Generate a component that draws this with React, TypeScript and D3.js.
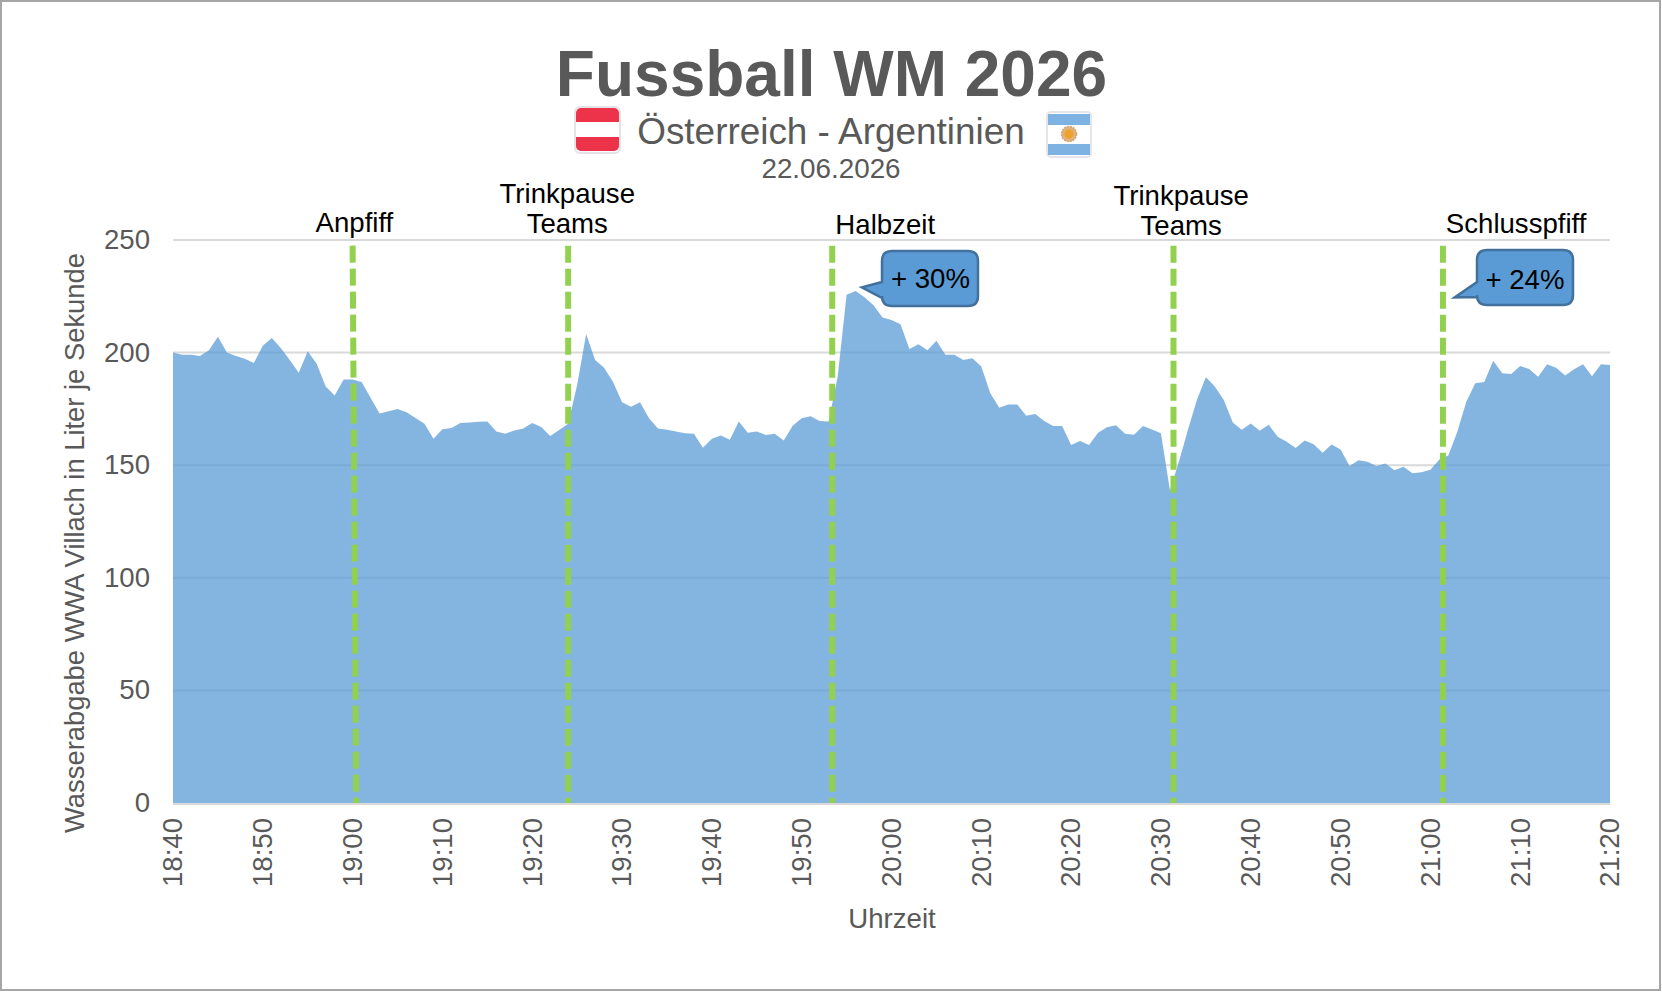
import { useRef, useEffect } from "react";
import * as d3 from "d3";

const width = 1662;
const height = 992;

// Wasserabgabe in l/s, one value per minute from 18:40 to 21:20
const flow = [
  200, 199, 199, 198.5, 201, 207, 200, 198.5, 197.3, 195.4,
  203, 206.5, 202, 196.7, 191, 200.6, 195, 185, 181, 188,
  188, 187, 180, 173, 174, 175, 173.5, 171, 168.4, 161.7,
  166, 166.5, 168.7, 169, 169.3, 169.4, 165, 164, 165.4, 166.3,
  168.7, 167, 163, 165.6, 168.4, 185.6, 208.3, 196.7, 193.3, 187,
  178, 176, 178, 170.8, 166.3, 165.7, 165, 164.2, 164, 157.7,
  161.7, 163.2, 161.3, 169.4, 164.4, 165, 163.4, 164, 161, 167.5,
  170.8, 171.7, 169.6, 169.4, 189, 225.7, 227.4, 224.6, 221, 215.6,
  214.5, 212.6, 201.6, 203.7, 201, 205.3, 199, 199, 196.7, 197.5,
  193.8, 182, 175.5, 177, 177, 172, 172.7, 169.6, 167.4, 167.4,
  159, 160.7, 159, 164.4, 166.8, 167.7, 164, 163.5, 167.4, 165.9,
  164.2, 138.9, 151.5, 165.6, 179, 189, 185, 179, 169, 165.7,
  168.5, 165.3, 168, 162.6, 160.4, 157.6, 161, 159.3, 155.5, 159.2,
  157, 149.7, 152.2, 151.5, 149.6, 150.7, 147.8, 149.3, 146.4, 146.9,
  148, 152.5, 154.3, 164.8, 178.2, 186.4, 187, 196.4, 190.8, 190.5,
  194, 192.7, 189.3, 194.8, 193.3, 189.8, 192.6, 194.8, 189.5, 194.8,
  194.5,
];

const xTicks = d3.range(0, 161, 10);
const xTickLabels = [
  "18:40", "18:50", "19:00", "19:10", "19:20", "19:30", "19:40", "19:50", "20:00",
  "20:10", "20:20", "20:30", "20:40", "20:50", "21:00", "21:10", "21:20",
];
const yTicks = [0, 50, 100, 150, 200, 250];

// minutes after 18:40; first line leans a little in the original
const eventTop = [20, 44, 73.4, 111.4, 141.4];
const eventBottom = [20.4, 44, 73.4, 111.4, 141.4];
const eventLabels = [
  ["Anpfiff"],
  ["Trinkpause", "Teams"],
  ["Halbzeit"],
  ["Trinkpause", "Teams"],
  ["Schlusspfiff"],
];
const eventLabelMinute = [20.2, 43.9, 79.3, 112.25, 149.55];
const eventLabelBaseline = [232, 233, 234, 234.5, 233];

const calloutLabels = ["+ 30%", "+ 24%"];
const calloutMinute = [76.7, 142.7];
const calloutValue = [229, 224.5];

const font = "'Liberation Sans', Arial, sans-serif";
const grey = "#595959";
const labelSize = 27.6;

const margin = { top: 240, right: 52, bottom: 189, left: 173 };

const x = d3.scaleLinear().domain([0, 160]).range([margin.left, width - margin.right]);
const y = d3.scaleLinear().domain([0, 250]).range([height - margin.bottom, margin.top]);

const area = d3
  .area<number>()
  .x((_, i) => x(i))
  .y0(y(0))
  .y1(d => y(d));

function calloutPath(tipX: number, tipY: number, left: number, top: number, right: number, bottom: number, baseA: number, baseB: number) {
  const r = 10;
  const p = d3.path();
  p.moveTo(left + r, top);
  p.lineTo(right - r, top);
  p.quadraticCurveTo(right, top, right, top + r);
  p.lineTo(right, bottom - r);
  p.quadraticCurveTo(right, bottom, right - r, bottom);
  p.lineTo(left + r, bottom);
  p.quadraticCurveTo(left, bottom, left, bottom - r);
  p.lineTo(left, baseB);
  p.lineTo(tipX, tipY);
  p.lineTo(left, baseA);
  p.lineTo(left, top + r);
  p.quadraticCurveTo(left, top, left + r, top);
  p.closePath();
  return p.toString();
}

export default function App() {
  const gxRef = useRef<SVGGElement | null>(null);
  const gyRef = useRef<SVGGElement | null>(null);

  useEffect(() => {
    if (gxRef.current) {
      const gx = d3.select<SVGGElement, unknown>(gxRef.current);
      gx.call(
        d3
          .axisBottom(x)
          .tickValues(xTicks)
          .tickSize(0)
          .tickFormat((_, i) => xTickLabels[i])
      );
      gx.select(".domain").remove();
      gx.selectAll("text")
        .attr("transform", "rotate(-90)")
        .attr("x", -15)
        .attr("y", 0)
        .attr("dy", "0.32em")
        .attr("text-anchor", "end")
        .attr("font-family", font)
        .attr("font-size", labelSize)
        .attr("fill", grey);
    }
    if (gyRef.current) {
      const gy = d3.select<SVGGElement, unknown>(gyRef.current);
      gy.call(d3.axisLeft(y).tickValues(yTicks).tickSize(0).tickFormat(d3.format("d")));
      gy.select(".domain").remove();
      gy.selectAll("text")
        .attr("x", -23)
        .attr("dy", "0.31em")
        .attr("font-family", font)
        .attr("font-size", labelSize)
        .attr("fill", grey);
    }
  }, []);

  const boxes = [
    { left: 882, top: 251, right: 978, bottom: 306, baseA: 282, baseB: 298, textX: 930.5, textY: 288 },
    { left: 1477, top: 250, right: 1573, bottom: 305, baseA: 282, baseB: 297, textX: 1525, textY: 289 },
  ];

  return (
    <svg
      width={width}
      height={height}
      style={{ position: "absolute", left: 0, top: 0, background: "#fff" }}
      fontFamily={font}
    >
      <rect x={1} y={1} width={width - 3} height={height - 3} fill="#fff" stroke="#a6a6a6" strokeWidth={2} />

      {/* Title block */}
      <text x={831.5} y={96} textAnchor="middle" fontSize={64} fontWeight="bold" fill={grey}>
        Fussball WM 2026
      </text>
      <text x={831} y={144} textAnchor="middle" fontSize={36.9} fill={grey}>
        Österreich - Argentinien
      </text>
      <text x={831} y={178} textAnchor="middle" fontSize={27.8} fill={grey}>
        22.06.2026
      </text>

      {/* Flags */}
      <g>
        <rect x={575} y={107} width={45} height={46} rx={5} fill="#fff" stroke="#e6e2e8" strokeWidth={2} />
        <path d="M576 113 a5 5 0 0 1 5 -5 h33 a5 5 0 0 1 5 5 v9 h-43 z" fill="#ec3349" />
        <path d="M576 137 h43 v9 a5 5 0 0 1 -5 5 h-33 a5 5 0 0 1 -5 -5 z" fill="#ec3349" />
        <rect x={1047} y={112} width={44} height={45} rx={4} fill="#fff" stroke="#e4e4ea" strokeWidth={2} />
        <rect x={1048} y={114} width={42} height={11} fill="#7eb2e2" />
        <rect x={1048} y={144} width={42} height={11} fill="#7eb2e2" />
        <circle cx={1069} cy={134} r={7.5} fill="#e3b27c" stroke="#d3a574" strokeWidth={1.5} strokeDasharray="2 1" />
        <circle cx={1069} cy={134} r={4.5} fill="#eba32c" />
      </g>

      {/* Grid */}
      <g stroke="#d9d9d9" strokeWidth={2}>
        {yTicks.slice(1).map(t => (
          <line key={t} x1={x(0)} x2={x(160)} y1={y(t)} y2={y(t)} />
        ))}
        <line x1={x(0)} x2={x(160)} y1={y(0) + 1} y2={y(0) + 1} />
      </g>

      <path d={area(flow) || undefined} fill="#5b9bd5" fillOpacity={0.75} />

      {/* Axes */}
      <g ref={gxRef} transform={`translate(0,${y(0)})`} />
      <g ref={gyRef} transform={`translate(${x(0)},0)`} />
      <text transform={`translate(84,543) rotate(-90)`} textAnchor="middle" fontSize={27.37} fill={grey}>
        Wasserabgabe WWA Villach in Liter je Sekunde
      </text>
      <text x={892} y={928} textAnchor="middle" fontSize={labelSize} fill={grey}>
        Uhrzeit
      </text>

      {/* Match events */}
      <g stroke="#92d050" strokeWidth={6} strokeDasharray="17 6">
        {eventTop.map((m, i) => (
          <line key={i} x1={x(m)} x2={x(eventBottom[i])} y1={y(247.5)} y2={y(0)} />
        ))}
      </g>
      <g textAnchor="middle" fontSize={labelSize} fill="#000">
        {eventLabels.map((lines, i) =>
          lines.map((l, j) => (
            <text key={l + i} x={x(eventLabelMinute[i])} y={eventLabelBaseline[i] - (lines.length - 1 - j) * 30}>
              {l}
            </text>
          ))
        )}
      </g>

      {/* Callouts */}
      {calloutLabels.map((label, i) => {
        const b = boxes[i];
        return (
          <g key={label}>
            <path
              d={calloutPath(x(calloutMinute[i]), y(calloutValue[i]), b.left, b.top, b.right, b.bottom, b.baseA, b.baseB)}
              fill="#5b9bd5"
              stroke="#41719c"
              strokeWidth={2.5}
            />
            <text x={b.textX} y={b.textY} textAnchor="middle" fontSize={labelSize} fill="#000">
              {label}
            </text>
          </g>
        );
      })}
    </svg>
  );
}
